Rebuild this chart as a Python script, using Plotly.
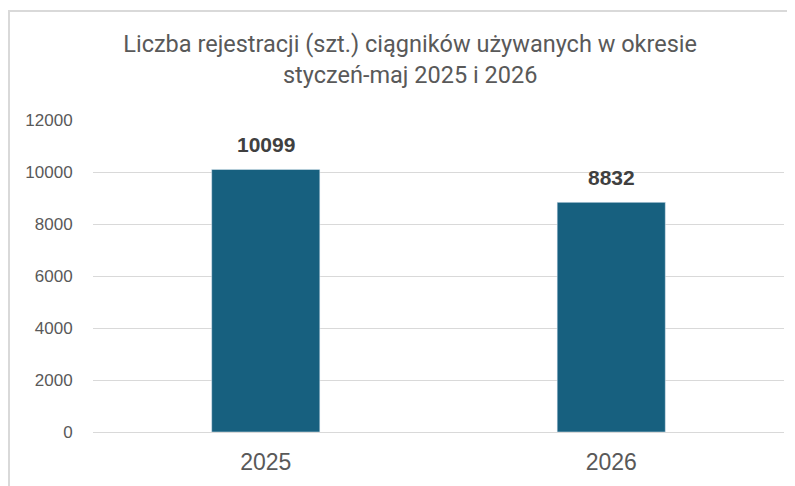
import plotly.graph_objects as go

categories = ["2025", "2026"]
values = [10099, 8832]
y_ticks = [0, 2000, 4000, 6000, 8000, 10000, 12000]

bar_color = "#17607F"
text_color = "#595959"
label_color = "#404040"
grid_color = "#D9D9D9"

fig = go.Figure()
fig.add_trace(go.Bar(
    x=categories, y=values, marker=dict(color=bar_color),
))

# data labels: category axis positions are serial indices of the categories
for i, v in enumerate(values):
    fig.add_annotation(
        x=i, y=v, xref="x", yref="y", text=f"<b>{v}</b>", showarrow=False,
        yanchor="bottom", yshift=11,
        font=dict(family="Liberation Sans, Arial", size=21, color=label_color),
    )

fig.update_layout(
    width=787, height=478,
    margin=dict(l=85, r=11, t=112, b=54),
    paper_bgcolor="white", plot_bgcolor="white",
    bargap=0.687,
    showlegend=False,
    title=dict(
        text="Liczba rejestracji (szt.) ciągników używanych w okresie<br>styczeń-maj 2025 i 2026",
        x=0.511, xanchor="center", xref="container",
        y=0.908, yanchor="top", yref="container",
        font=dict(family="Roboto", size=23.5, color=text_color),
    ),
    font=dict(family="Liberation Sans, Arial", color=text_color),
)

fig.update_yaxes(
    range=[0, 12000], tickvals=y_ticks, ticktext=[f"{t}" for t in y_ticks],
    showgrid=True, gridcolor=grid_color, gridwidth=1,
    zeroline=True, zerolinecolor=grid_color, zerolinewidth=1,
    showline=False, ticks="outside", ticklen=16, tickcolor="rgba(0,0,0,0)",
    automargin=False,
    tickfont=dict(size=17, color=text_color),
)
fig.update_xaxes(
    type="category",
    showline=False, ticks="outside", ticklen=9, tickcolor="rgba(0,0,0,0)",
    automargin=False,
    tickfont=dict(size=23, color=text_color),
)

# light gray chart frame (left and top edges visible)
fig.add_shape(type="rect", xref="paper", yref="paper",
              x0=(1 - 85) / 691, x1=1.05, y0=-0.3, y1=(424 - 3) / 312,
              line=dict(color=grid_color, width=2), fillcolor="rgba(0,0,0,0)",
              layer="below")

fig.write_html("out.html")
